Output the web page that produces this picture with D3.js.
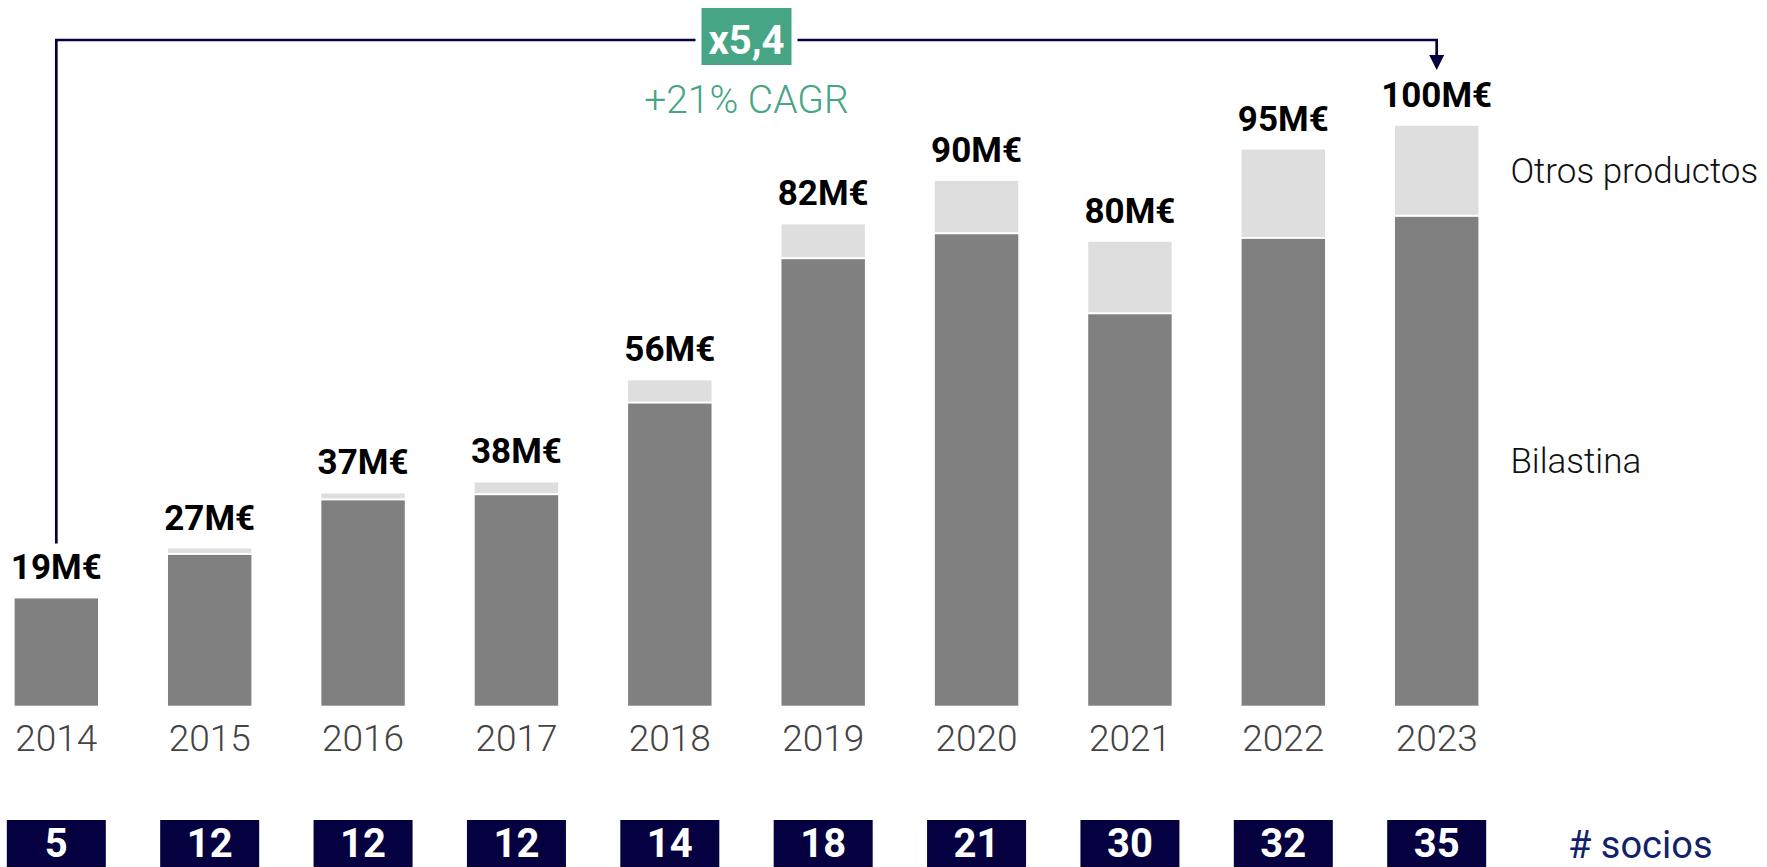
<!DOCTYPE html>
<html>
<head>
<meta charset="utf-8">
<script src="https://cdn.jsdelivr.net/npm/d3@7"></script>
<style>
  html, body { margin: 0; padding: 0; background: #fff; }
  svg { display: block; }
</style>
</head>
<body>
<div id="chart"></div>
<script>
// datos (M€)
const years = ["2014", "2015", "2016", "2017", "2018", "2019", "2020", "2021", "2022", "2023"];
const bilastina = [18.5, 26.0, 35.4, 36.3, 52.1, 77.0, 81.3, 67.5, 80.5, 84.3];
const otros = [0, 1.1, 1.2, 2.2, 4.0, 6.0, 9.2, 12.5, 15.4, 15.7];
const totalLabels = ["19M€", "27M€", "37M€", "38M€", "56M€", "82M€", "90M€", "80M€", "95M€", "100M€"];
const socios = [5, 12, 12, 12, 14, 18, 21, 30, 32, 35];
const seriesNames = ["Bilastina", "Otros productos"];
const multiple = "x5,4";
const cagr = "+21% CAGR";

const w = 1767;
const h = 867;
const font = "Roboto, 'Open Sans', sans-serif";
const navy = "#050040";
const green = "#46a584";

const svg = d3.select("#chart")
    .append("svg")
    .attr("width", w)
    .attr("height", h);

const x = d3.scaleBand()
    .domain(years)
    .range([14.6, 1478.4])
    .paddingInner(0.456)
    .paddingOuter(0);

const y = d3.scaleLinear()
    .domain([0, 100])
    .range([705.7, 125.8]);

const gap = 2; // linea blanca entre segmentos

// Bilastina (gris oscuro)
svg.selectAll("rect.bil")
    .data(years)
    .enter()
    .append("rect")
    .attr("class", "bil")
    .attr("x", d => x(d))
    .attr("width", x.bandwidth())
    .attr("y", (d, i) => y(bilastina[i]))
    .attr("height", (d, i) => y(0) - y(bilastina[i]))
    .attr("fill", "#808080");

// Otros productos (gris claro)
svg.selectAll("rect.otros")
    .data(years)
    .enter()
    .append("rect")
    .attr("class", "otros")
    .attr("x", d => x(d))
    .attr("width", x.bandwidth())
    .attr("y", (d, i) => y(bilastina[i] + otros[i]))
    .attr("height", (d, i) => Math.max(0, y(bilastina[i]) - y(bilastina[i] + otros[i]) - gap))
    .attr("fill", "#dedede");

// etiquetas de total
svg.selectAll("text.total")
    .data(years)
    .enter()
    .append("text")
    .attr("class", "total")
    .attr("x", d => x(d) + x.bandwidth() / 2)
    .attr("y", (d, i) => y(bilastina[i] + otros[i]) - 19)
    .attr("text-anchor", "middle")
    .attr("font-family", font)
    .attr("font-weight", 700)
    .attr("font-size", 35)
    .attr("fill", "#000")
    .text((d, i) => totalLabels[i]);

// eje de años
const xAxis = svg.append("g")
    .attr("transform", "translate(0," + y(0) + ")")
    .call(d3.axisBottom(x).tickSize(0).tickPadding(45));
xAxis.select(".domain").remove();
xAxis.selectAll("text")
    .attr("font-family", font)
    .attr("font-weight", 300)
    .attr("font-size", 37)
    .attr("fill", "#444")
    .attr("dy", 0);

// nombres de series junto a la ultima barra
const last = years.length - 1;
const lx = x(years[last]) + x.bandwidth() + 32;
svg.append("text")
    .attr("x", lx)
    .attr("y", (y(bilastina[last]) + y(0)) / 2 + 12)
    .attr("font-family", font)
    .attr("font-weight", 300)
    .attr("font-size", 35)
    .attr("fill", "#111")
    .text(seriesNames[0]);
svg.append("text")
    .attr("x", lx)
    .attr("y", (y(bilastina[last] + otros[last]) + y(bilastina[last])) / 2 + 12)
    .attr("font-family", font)
    .attr("font-weight", 300)
    .attr("font-size", 35)
    .attr("fill", "#111")
    .text(seriesNames[1]);

// cajas de socios
const boxW = 99;
svg.selectAll("rect.socio")
    .data(years)
    .enter()
    .append("rect")
    .attr("class", "socio")
    .attr("x", d => x(d) + x.bandwidth() / 2 - boxW / 2)
    .attr("y", 820)
    .attr("width", boxW)
    .attr("height", h - 820)
    .attr("fill", navy);

svg.selectAll("text.socio")
    .data(years)
    .enter()
    .append("text")
    .attr("class", "socio")
    .attr("x", d => x(d) + x.bandwidth() / 2)
    .attr("y", 857)
    .attr("text-anchor", "middle")
    .attr("font-family", font)
    .attr("font-weight", 700)
    .attr("font-size", 40)
    .attr("fill", "#fff")
    .text((d, i) => socios[i]);

svg.append("text")
    .attr("x", 1568)
    .attr("y", 858)
    .attr("font-family", font)
    .attr("font-size", 38)
    .attr("fill", "#12226a")
    .text("# socios");

// flecha de crecimiento
const x0 = x(years[0]) + x.bandwidth() / 2;
const x1 = x(years[last]) + x.bandwidth() / 2;
const lineY = 40;

svg.append("path")
    .attr("d", "M" + x0 + "," + (y(bilastina[0] + otros[0]) - 55) + "V" + lineY + "H" + x1 + "V" + 56)
    .attr("fill", "none")
    .attr("stroke", navy)
    .attr("stroke-width", 2.7);

svg.append("path")
    .attr("d", "M" + (x1 - 7.5) + ",55L" + (x1 + 7.5) + ",55L" + x1 + ",70Z")
    .attr("fill", navy);

const cx = (x0 + x1) / 2;
svg.append("rect")
    .attr("x", cx - 51)
    .attr("y", 8)
    .attr("width", 102)
    .attr("height", 57)
    .attr("fill", "#fff");
svg.append("rect")
    .attr("x", cx - 45)
    .attr("y", 8)
    .attr("width", 90)
    .attr("height", 57)
    .attr("fill", green);
svg.append("text")
    .attr("x", cx)
    .attr("y", 54)
    .attr("text-anchor", "middle")
    .attr("font-family", font)
    .attr("font-weight", 700)
    .attr("font-size", 40)
    .attr("fill", "#fff")
    .text(multiple);

svg.append("text")
    .attr("x", cx)
    .attr("y", 113)
    .attr("text-anchor", "middle")
    .attr("font-family", font)
    .attr("font-weight", 300)
    .attr("font-size", 39)
    .attr("fill", green)
    .text(cagr);
</script>
</body>
</html>
